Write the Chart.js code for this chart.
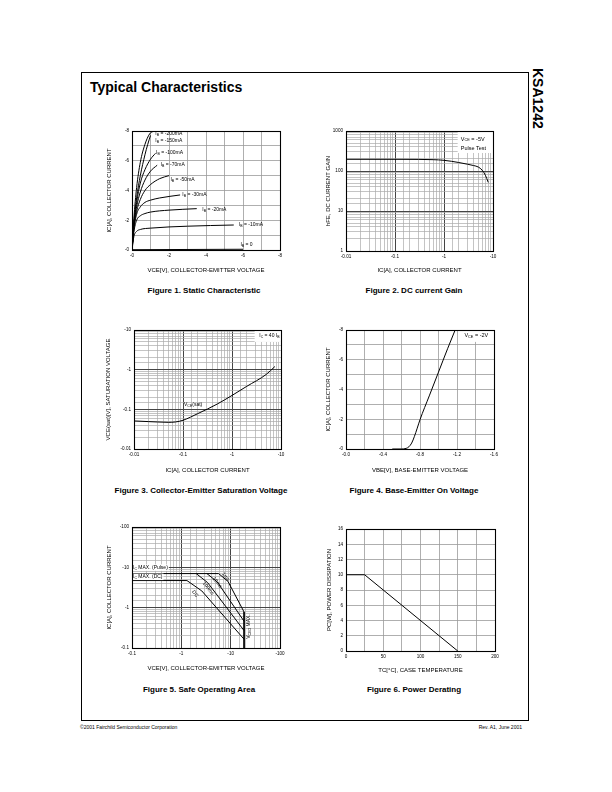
<!DOCTYPE html>
<html>
<head>
<meta charset="utf-8">
<title>KSA1242 Typical Characteristics</title>
<script src="https://cdn.jsdelivr.net/npm/chart.js@4.4.1/dist/chart.umd.min.js"></script>
<style>
  html, body { margin: 0; padding: 0; background: #fff; }
  body { position: relative; width: 612px; height: 792px; overflow: hidden; font-family: "Liberation Sans", Arial, sans-serif; color: #000; }
  .frame { position: absolute; left: 81px; top: 72px; width: 448px; height: 649px; box-sizing: border-box; border: 1px solid #000; }
  .heading { position: absolute; left: 90px; top: 80px; font-size: 14px; line-height: 14px; font-weight: bold; }
  .part { position: absolute; left: 531px; top: 68px; writing-mode: vertical-rl; font-size: 14px; line-height: 14px; font-weight: bold; }
  .caption { position: absolute; width: 240px; margin-left: -120px; text-align: center; font-size: 8px; line-height: 10px; font-weight: bold; }
  .foot { position: absolute; top: 724px; font-size: 5px; line-height: 6px; }
  canvas { position: absolute; }
</style>
</head>
<body>
<div class="frame"></div>
<div class="heading">Typical Characteristics</div>
<div class="part">KSA1242</div>

<canvas id="fig1"></canvas>
<canvas id="fig2"></canvas>
<canvas id="fig3"></canvas>
<canvas id="fig4"></canvas>
<canvas id="fig5"></canvas>
<canvas id="fig6"></canvas>

<div class="caption" style="left:204px; top:286px">Figure 1. Static Characteristic</div>
<div class="caption" style="left:414px; top:286px">Figure 2. DC current Gain</div>
<div class="caption" style="left:201px; top:486px">Figure 3. Collector-Emitter Saturation Voltage</div>
<div class="caption" style="left:414px; top:486px">Figure 4. Base-Emitter On Voltage</div>
<div class="caption" style="left:199px; top:685px">Figure 5. Safe Operating Area</div>
<div class="caption" style="left:414px; top:685px">Figure 6. Power Derating</div>

<div class="foot" style="left:80px">©2001 Fairchild Semiconductor Corporation</div>
<div class="foot" style="right:90px">Rev. A1, June 2001</div>

<script>
// ---------- data (magnitudes) ----------

// Figure 1: |VCE| [V] vs |IC| [A], one curve per base current
const fig1Ib0   = [[0, 0.02], [6.0, 0.05]];
const fig1Ib10  = [[0, 0], [0.1, 0.9], [0.25, 1.25], [0.45, 1.38], [1.0, 1.47], [3.0, 1.6], [5.5, 1.68]];
const fig1Ib20  = [[0, 0], [0.1, 1.2], [0.25, 2.0], [0.45, 2.3], [0.7, 2.45], [1.0, 2.55], [2.0, 2.68], [3.5, 2.78]];
const fig1Ib30  = [[0, 0], [0.1, 1.4], [0.25, 2.4], [0.45, 2.9], [0.7, 3.2], [1.0, 3.35], [1.5, 3.5], [2.6, 3.7]];
const fig1Ib50  = [[0, 0], [0.1, 1.5], [0.25, 2.6], [0.45, 3.4], [0.7, 4.0], [1.0, 4.4], [1.5, 4.8], [2.0, 5.0]];
const fig1Ib70  = [[0, 0], [0.1, 1.6], [0.25, 2.9], [0.45, 3.9], [0.7, 4.7], [1.0, 5.3], [1.36, 5.7]];
const fig1Ib100 = [[0, 0], [0.1, 1.7], [0.25, 3.2], [0.45, 4.5], [0.7, 5.4], [1.0, 6.1], [1.27, 6.5]];
const fig1Ib150 = [[0, 0], [0.1, 1.8], [0.25, 3.5], [0.45, 5.0], [0.7, 6.4], [0.85, 7.1], [1.0, 7.7]];
const fig1Ib200 = [[0, 0], [0.1, 2.1], [0.25, 4.2], [0.45, 5.9], [0.7, 7.1], [0.95, 7.8], [1.18, 8.0]];
const fig1TickValues = [0, 2, 4, 6, 8];
const fig1XTickLabels = ['-0', '-2', '-4', '-6', '-8'];
const fig1YTickLabels = ['-0', '-2', '-4', '-6', '-8'];

// Figure 2: hFE vs |IC|
const fig2Ic  = [0.01, 0.1, 0.3, 0.6, 1, 2, 3, 4, 5, 6, 7, 8];
const fig2Hfe = [196, 196, 195, 192, 185, 163, 148, 137, 126, 105, 78, 52];
const fig2XTickValues = [0.01, 0.1, 1, 10];
const fig2XTickLabels = ['-0.01', '-0.1', '-1', '-10'];
const fig2YTickValues = [1, 10, 100, 1000];
const fig2YTickLabels = ['1', '10', '100', '1000'];

// Figure 3: |VCE(sat)| vs |IC|
const fig3Ic  = [0.01, 0.02, 0.03, 0.05, 0.07, 0.1, 0.2, 0.5, 1, 2, 5, 7.5];
const fig3Vce = [0.051, 0.049, 0.048, 0.047, 0.048, 0.053, 0.078, 0.136, 0.224, 0.38, 0.76, 1.2];
const fig3TickValues = [0.01, 0.1, 1, 10];
const fig3XTickLabels = ['-0.01', '-0.1', '-1', '-10'];
const fig3YTickLabels = ['-0.01', '-0.1', '-1', '-10'];

// Figure 4: |IC| vs |VBE|
const fig4Vbe = [0.5, 0.6, 0.65, 0.68, 0.71, 0.74, 0.77, 0.8, 0.9, 1.0, 1.1, 1.18];
const fig4Ic  = [0, 0, 0.04, 0.15, 0.4, 0.85, 1.4, 1.97, 3.57, 5.17, 6.77, 8.0];
const fig4XTickValues = [0, 0.4, 0.8, 1.2, 1.6];
const fig4XTickLabels = ['-0.0', '-0.4', '-0.8', '-1.2', '-1.6'];
const fig4YTickValues = [0, 2, 4, 6, 8];
const fig4YTickLabels = ['-0', '-2', '-4', '-6', '-8'];

// Figure 5: safe operating area, |VCE| [V] vs |IC| [A]
const fig5Pulse = [[0.1, 7], [5.7, 7]];
const fig5Dc    = [[0.1, 4.7], [1.3, 4.7], [2.6, 2.6], [18.7, 0.165]];
const fig5Ms100 = [[2.0, 7], [3.4, 4.2], [18.7, 0.27]];
const fig5Ms10  = [[3.3, 7], [5.3, 4.4], [18.7, 0.46]];
const fig5Ms1   = [[5.7, 7], [8.8, 4.5], [18.7, 0.78]];
const fig5Vceo  = [[18.7, 0.78], [18.7, 0.1]];
const fig5TickValues = [0.1, 1, 10, 100];
const fig5XTickLabels = ['-0.1', '-1', '-10', '-100'];
const fig5YTickLabels = ['-0.1', '-1', '-10', '-100'];

// Figure 6: PC [W] vs TC [°C]
const fig6Tc = [0, 25, 150];
const fig6Pc = [10, 10, 0];
const fig6XTickValues = [0, 50, 100, 150, 200];
const fig6XTickLabels = ['0', '50', '100', '150', '200'];
const fig6YTickValues = [0, 2, 4, 6, 8, 10, 12, 14, 16];
const fig6YTickLabels = ['0', '2', '4', '6', '8', '10', '12', '14', '16'];

// ---------- look ----------
const FONT = '"Liberation Sans", Arial, sans-serif';
const TITLE_SIZE = 6;
const TICK_SIZE = 4.6;
const NOTE_SIZE = 5;
const GRID = '#9a9a9a';

function labelFor(v, values, labels) {
  const i = values.findIndex(t => Math.abs(t - v) <= 1e-6 * Math.max(1, Math.abs(t)));
  return i < 0 ? '' : labels[i];
}
const isDecade = v => v > 0 && Math.abs(Math.log10(v) - Math.round(Math.log10(v))) < 1e-6;
const pts = arr => arr.map(([x, y]) => ({ x, y }));
const zip = (xs, ys) => xs.map((x, i) => ({ x, y: ys[i] }));

function axis(type, min, max, values, labels, title, step) {
  const log = type === 'logarithmic';
  return {
    type, min, max,
    ticks: {
      stepSize: step, autoSkip: false, maxRotation: 0, padding: 3, color: '#000',
      font: { family: FONT, size: TICK_SIZE },
      callback: v => labelFor(v, values, labels)
    },
    grid: {
      drawTicks: false,
      color: log ? c => (c.tick && isDecade(c.tick.value) ? '#444' : '#aaa') : GRID,
      lineWidth: log ? c => (c.tick && isDecade(c.tick.value) ? 1 : 0.7) : 0.8
    },
    border: { color: '#000', width: 1 },
    title: { display: true, text: title, color: '#000', padding: 0, font: { family: FONT, size: TITLE_SIZE } }
  };
}

// rich text: "I_{B}" puts B as subscript
function drawRich(ctx, str, x, y, size, align) {
  const parts = str.split(/(_\{[^}]*\})/).filter(s => s).map(s =>
    s.startsWith('_{') ? { t: s.slice(2, -1), sub: true } : { t: s, sub: false });
  const fontOf = p => (p.sub ? size * 0.7 : size) + 'px ' + FONT;
  let w = 0;
  parts.forEach(p => { ctx.font = fontOf(p); p.w = ctx.measureText(p.t).width; w += p.w; });
  let cx = align === 'center' ? x - w / 2 : align === 'right' ? x - w : x;
  ctx.textAlign = 'left';
  ctx.textBaseline = 'middle';
  parts.forEach(p => {
    ctx.font = fontOf(p);
    ctx.fillText(p.t, cx, y + (p.sub ? size * 0.25 : 0));
    cx += p.w;
  });
  return { start: align === 'center' ? x - w / 2 : align === 'right' ? x - w : x, w };
}

const notesPlugin = {
  id: 'notes',
  afterDatasetsDraw(chart, args, opts) {
    const { ctx, scales: { x, y } } = chart;
    ctx.save();
    (opts.boxes || []).forEach(b => {
      const x0 = x.getPixelForValue(b[0]), y0 = y.getPixelForValue(b[1]);
      const x1 = x.getPixelForValue(b[2]), y1 = y.getPixelForValue(b[3]);
      ctx.fillStyle = '#fff';
      ctx.fillRect(Math.min(x0, x1), Math.min(y0, y1), Math.abs(x1 - x0), Math.abs(y1 - y0));
    });
    (opts.items || []).forEach(n => {
      const size = n.size || NOTE_SIZE;
      ctx.save();
      ctx.translate(x.getPixelForValue(n.x), y.getPixelForValue(n.y));
      ctx.rotate((n.rot || 0) * Math.PI / 180);
      if (n.bg) {
        ctx.globalAlpha = 0;
        const m = drawRich(ctx, n.text, 0, 0, size, n.align || 'left');
        ctx.globalAlpha = 1;
        ctx.fillStyle = '#fff';
        ctx.fillRect(m.start - 1, -size * 0.6, m.w + 2, size * 1.3);
      }
      ctx.fillStyle = '#000';
      drawRich(ctx, n.text, 0, 0, size, n.align || 'left');
      ctx.restore();
    });
    ctx.restore();
  },
  afterDraw(chart) {
    const { ctx, chartArea: a } = chart;
    ctx.save();
    ctx.strokeStyle = '#000';
    ctx.lineWidth = 1.1;
    ctx.strokeRect(Math.round(a.left) + 0.5, Math.round(a.top) + 0.5, Math.round(a.width), Math.round(a.height));
    ctx.restore();
  }
};

function line(data, tension) {
  return {
    data, borderColor: '#000', borderWidth: 1, pointRadius: 0, fill: false,
    tension: tension || 0, cubicInterpolationMode: tension ? 'monotone' : 'default'
  };
}

// box: plot area [left, top, right, bottom], centre of the y title, centre of the x title
function build(id, box, xAxis, yAxis, datasets, notes) {
  const canvas = document.getElementById(id);
  const lh = TITLE_SIZE * 1.2;
  const left = Math.round(box.yTitleX - lh / 2);
  const top = box.plot[1] - 8;
  const right = box.plot[2] + 10;
  const bottom = Math.round(box.xTitleY + lh / 2);
  canvas.width = right - left;
  canvas.height = bottom - top;
  canvas.style.left = left + 'px';
  canvas.style.top = top + 'px';
  xAxis.afterFit = s => { s.height = bottom - box.plot[3]; };
  yAxis.afterFit = s => { s.width = box.plot[0] - left; };
  return new Chart(canvas, {
    type: 'line',
    data: { datasets },
    options: {
      responsive: false, animation: false, devicePixelRatio: 1,
      layout: { padding: { top: 8, right: 10, left: 0, bottom: 0 } },
      plugins: { legend: { display: false }, tooltip: { enabled: false }, notes: notes || {} },
      scales: { x: xAxis, y: yAxis }
    },
    plugins: [notesPlugin]
  });
}

// ---------- figure 1 ----------
build('fig1', { plot: [132, 131, 280, 250], yTitleX: 110, xTitleY: 270 },
  axis('linear', 0, 8, fig1TickValues, fig1XTickLabels, 'VCE[V], COLLECTOR-EMITTER VOLTAGE', 1),
  axis('linear', 0, 8, fig1TickValues, fig1YTickLabels, 'IC[A], COLLECTOR CURRENT', 1),
  [fig1Ib0, fig1Ib10, fig1Ib20, fig1Ib30, fig1Ib50, fig1Ib70, fig1Ib100, fig1Ib150, fig1Ib200].map(c => line(pts(c), 0.4)),
  { items: [
    { text: 'I_{B} = -200mA', x: 1.26, y: 7.8 },
    { text: 'I_{B} = -150mA', x: 1.26, y: 7.35 },
    { text: 'I_{B} = -100mA', x: 1.3, y: 6.55 },
    { text: 'I_{B} = -70mA', x: 1.55, y: 5.76 },
    { text: 'I_{B} = -50mA', x: 2.08, y: 4.7 },
    { text: 'I_{B} = -30mA', x: 2.72, y: 3.7 },
    { text: 'I_{B} = -20mA', x: 3.8, y: 2.69 },
    { text: 'I_{B} = -10mA', x: 5.78, y: 1.68 },
    { text: 'I_{B} = 0', x: 5.86, y: 0.34 }
  ] });

// ---------- figure 2 ----------
build('fig2', { plot: [346, 131, 493, 251], yTitleX: 329, xTitleY: 270 },
  axis('logarithmic', 0.01, 10, fig2XTickValues, fig2XTickLabels, 'IC[A], COLLECTOR CURRENT'),
  axis('logarithmic', 1, 1000, fig2YTickValues, fig2YTickLabels, 'hFE, DC CURRENT GAIN'),
  [line(zip(fig2Ic, fig2Hfe), 0.4)],
  { boxes: [[1.9, 282, 10, 1000]],
    items: [
      { text: 'V_{CE} = -5V', x: 2.2, y: 630, size: 5.5 },
      { text: 'Pulse Test', x: 2.2, y: 376, size: 5.5 }
    ] });

// ---------- figure 3 ----------
build('fig3', { plot: [134, 330, 281, 449], yTitleX: 109, xTitleY: 470 },
  axis('logarithmic', 0.01, 10, fig3TickValues, fig3XTickLabels, 'IC[A], COLLECTOR CURRENT'),
  axis('logarithmic', 0.01, 10, fig3TickValues, fig3YTickLabels, 'VCE(sat)[V], SATURATION VOLTAGE'),
  [line(zip(fig3Ic, fig3Vce), 0.4)],
  { boxes: [[2.9, 5.0, 10, 10]],
    items: [
      { text: 'V_{CE}(sat)', x: 0.105, y: 0.13 },
      { text: 'I_{C} = 40 I_{B}', x: 3.6, y: 7.1, size: 5 }
    ] });

// ---------- figure 4 ----------
build('fig4', { plot: [346, 330, 494, 449], yTitleX: 329, xTitleY: 470 },
  axis('linear', 0, 1.6, fig4XTickValues, fig4XTickLabels, 'VBE[V], BASE-EMITTER VOLTAGE', 0.2),
  axis('linear', 0, 8, fig4YTickValues, fig4YTickLabels, 'IC[A], COLLECTOR CURRENT', 1),
  [line(zip(fig4Vbe, fig4Ic), 0.4)],
  { boxes: [[1.23, 7.2, 1.6, 8]],
    items: [{ text: 'V_{CE} = -2V', x: 1.28, y: 7.6, size: 5.5 }] });

// ---------- figure 5 ----------
build('fig5', { plot: [132, 527, 280, 648], yTitleX: 110, xTitleY: 668 },
  axis('logarithmic', 0.1, 100, fig5TickValues, fig5XTickLabels, 'VCE[V], COLLECTOR-EMITTER VOLTAGE'),
  axis('logarithmic', 0.1, 100, fig5TickValues, fig5YTickLabels, 'IC[A], COLLECTOR CURRENT'),
  [fig5Pulse, fig5Dc, fig5Ms100, fig5Ms10, fig5Ms1, fig5Vceo].map(c => line(pts(c))),
  { items: [
    { text: 'I_{C} MAX. (Pulse)', x: 0.105, y: 10, bg: true },
    { text: 'I_{C} MAX. (DC)', x: 0.105, y: 5.9, bg: true },
    { text: 'DC', x: 1.9, y: 2.2, rot: 52, align: 'center' },
    { text: '100ms', x: 3.5, y: 3.0, rot: 52, align: 'center' },
    { text: '10ms', x: 5.3, y: 4.2, rot: 52, align: 'center' },
    { text: '1ms', x: 7.9, y: 5.8, rot: 52, align: 'center' },
    { text: 'V_{CEO} MAX.', x: 23, y: 0.34, rot: -90, align: 'center' }
  ] });

// ---------- figure 6 ----------
build('fig6', { plot: [346, 529, 495, 651], yTitleX: 330, xTitleY: 670 },
  axis('linear', 0, 200, fig6XTickValues, fig6XTickLabels, 'TC[°C], CASE TEMPERATURE', 25),
  axis('linear', 0, 16, fig6YTickValues, fig6YTickLabels, 'PC[W], POWER DISSIPATION', 2),
  [line(zip(fig6Tc, fig6Pc))]);
</script>
</body>
</html>
